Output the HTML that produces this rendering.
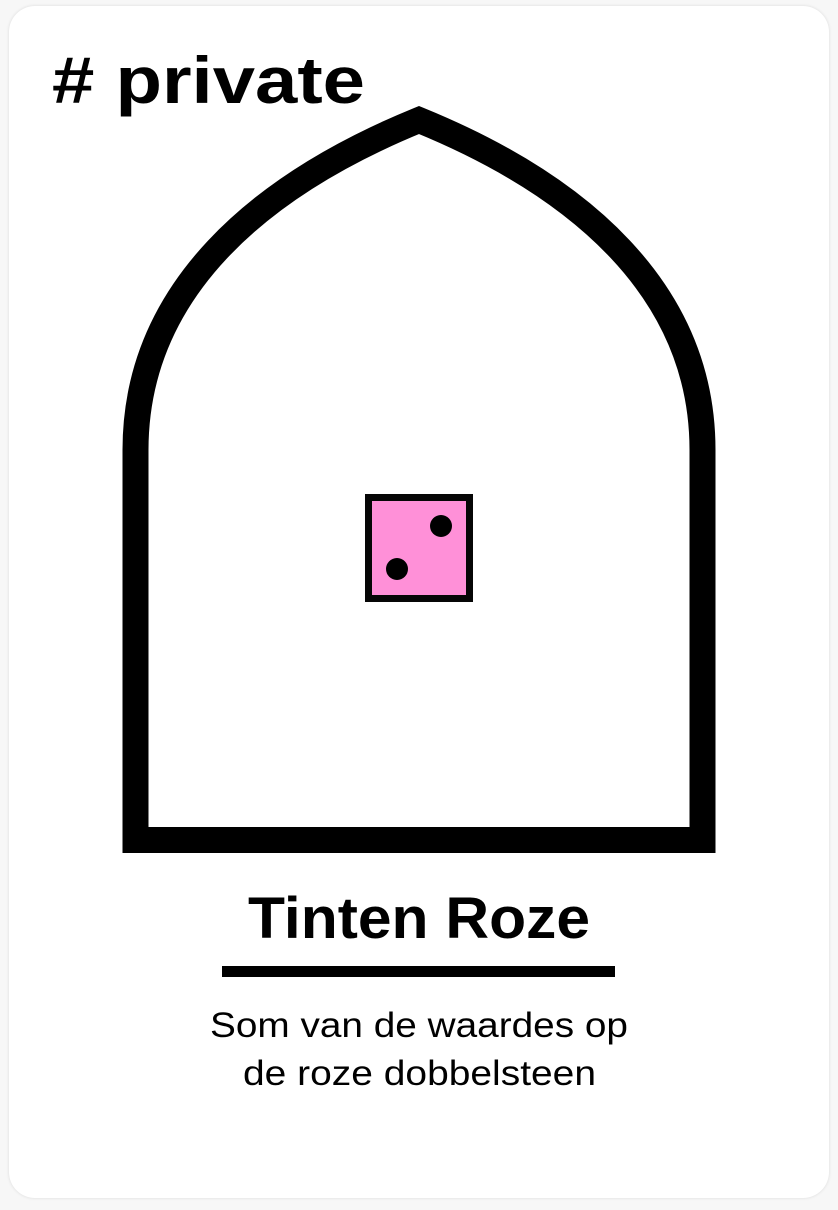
<!DOCTYPE html>
<html><head><meta charset="utf-8"><style>
html,body{margin:0;padding:0;background:#f7f7f7;width:838px;height:1210px;overflow:hidden}
.card{position:absolute;left:9px;top:6px;width:820px;height:1192px;background:#fff;border-radius:26px;box-shadow:0 0 3px rgba(0,0,0,0.12)}
svg{position:absolute;left:0;top:0}
</style></head><body>
<div class="card"></div>
<svg width="838" height="1210">
  <text x="52" y="103" textLength="313" lengthAdjust="spacingAndGlyphs" font-family="Liberation Sans, sans-serif" font-weight="bold" font-size="66" fill="#000"># private</text>
  <path d="M135.5,840 L135.5,450 C135.5,290 260,185 419,120 C578,185 702.5,290 702.5,450 L702.5,840 Z" fill="none" stroke="#000" stroke-width="26" stroke-linejoin="miter"/>
  <g>
    <rect x="368.5" y="497.5" width="101" height="101" fill="#ff90d8" stroke="#060606" stroke-width="7"/>
    <circle cx="441" cy="526" r="11" fill="#000"/>
    <circle cx="397" cy="569" r="11" fill="#000"/>
  </g>
  <text x="248" y="938" textLength="342" lengthAdjust="spacingAndGlyphs" font-family="Liberation Sans, sans-serif" font-weight="bold" font-size="58" fill="#000">Tinten Roze</text>
  <rect x="222" y="966" width="393" height="11" fill="#000"/>
  <text x="210" y="1037" textLength="418" lengthAdjust="spacingAndGlyphs" font-family="Liberation Sans, sans-serif" font-size="35" fill="#000">Som van de waardes op</text>
  <text x="243" y="1085" textLength="353" lengthAdjust="spacingAndGlyphs" font-family="Liberation Sans, sans-serif" font-size="35" fill="#000">de roze dobbelsteen</text>
</svg>
</body></html>
